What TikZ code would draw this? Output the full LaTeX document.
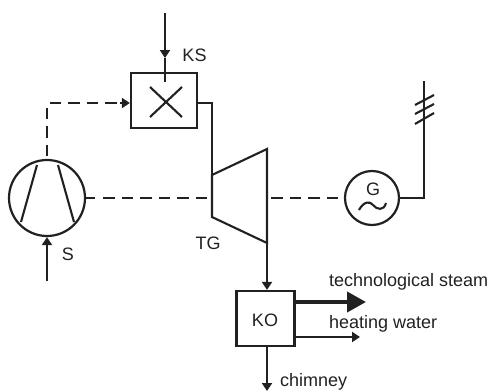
\documentclass[tikz,border=0pt]{standalone}
\usepackage{fontspec}
\setmainfont{Liberation Sans}
\usetikzlibrary{arrows.meta}
\definecolor{ink}{gray}{0.13}
\tikzset{
  x=1pt,y=-1pt,
  every path/.style={draw=ink,line width=2.1pt,line join=miter},
  lbl/.style={inner sep=0pt,text=ink,font=\fontsize{18}{20}\selectfont,draw=none},
  boxn/.style={draw=ink,line width=2.2pt,inner sep=0pt},
  circn/.style={circle,draw=ink,line width=2.2pt,inner sep=0pt},
  dash1/.style={dash pattern=on 11.5pt off 7pt,line width=2.1pt},
  tipS/.style={-{Triangle[length=8pt,width=10pt]}},
  tipL/.style={-{Triangle[length=19pt,width=20pt]},line width=4pt}
}
\begin{document}
\begin{tikzpicture}
\useasboundingbox[draw=none] (0,0) rectangle (491,391);
% combustion chamber
\node[boxn,minimum width=66pt,minimum height=55pt] (ks) at (164,100.5) {};
\coordinate (ksin) at (165,13);
\coordinate (ksmid) at (165,58);
\coordinate (ksend) at (165,82);
\draw[tipS] (ksin) -- (ksmid);
\draw (ksmid) -- (ksend);
\draw (150,87) -- (182,117);
\draw (182,87) -- (150,117);
% compressor
\node[circn,minimum size=76pt] (s) at (47,198) {};
\draw (37,165) -- (21,222);
\draw (58,165) -- (74,222);
\coordinate (sin) at (47,281);
\draw[tipS] (sin) -- (s.south);
\coordinate (sup) at (47,156);
\coordinate (scorner) at (47,103);
\draw[dash1] (sup) -- (scorner) -- (124,103);
\draw[tipS] (120,103) -- (ks.west |- 0,103);
% turbine
\coordinate (t1) at (212,175);
\coordinate (t2) at (267,149);
\coordinate (t3) at (267,243);
\coordinate (t4) at (212,217);
\draw (t1) -- (t2) -- (t3) -- (t4) -- cycle;
\draw (197,103) -- (212,103) -- (t1);
\coordinate (shaftA) at (209,198);
\coordinate (shaftB) at (271,198);
\draw[dash1] (103,198) -- (shaftA);
\draw (s.east) -- (95,198);
% generator
\node[circn,minimum size=54pt] (g) at (372,198) {};
\coordinate (shaftC) at (339,198);
\draw[dash1] (shaftB) -- (shaftC);
\node[lbl] (gl) at (373,189) {G};
\draw (359,210) .. controls (364,201) and (370,201) .. (373,205) .. controls (377,210) and (384,211) .. (386,203);
\coordinate (gr) at (424,198);
\coordinate (gtop) at (424,81);
\draw (g.east) -- (gr) -- (gtop);
\draw (415,124) -- (434,113);
\draw (415,114) -- (434,104);
\draw (415,105) -- (434,95);
% condensing unit
\node[boxn,minimum width=58pt,minimum height=55pt] (ko) at (265.5,318.5) {};
\node[lbl] (kol) at (265,320) {KO};
\draw[tipS] (t3) -- (ko.north -| t3);
\coordinate (a) at (366,302);
\coordinate (b) at (360,337);
\coordinate (c) at (267,391);
\draw[tipL] (295,302) -- (a);
\draw[tipS] (295,337) -- (b);
\draw[tipS] (ko.south -| c) -- (c);
% labels
\node[lbl] (lks) at (194.5,55) {KS};
\node[lbl] (ls) at (68,254) {S};
\node[lbl] (ltg) at (208,243) {TG};
\node[lbl,anchor=base west] (l1) at (328,286) {technological steam};
\node[lbl,anchor=base west] (l2) at (328,328) {heating water};
\node[lbl,anchor=base west] (l3) at (279,386.5) {chimney};
\end{tikzpicture}
\end{document}
